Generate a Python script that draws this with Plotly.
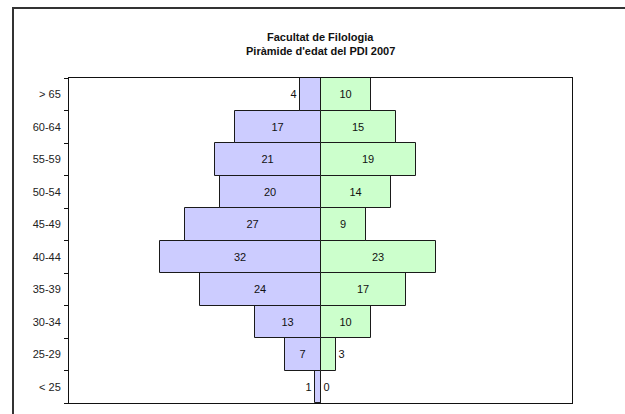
import plotly.graph_objects as go

# age bands, bottom to top
age_groups = ['< 25', '25-29', '30-34', '35-39', '40-44', '45-49', '50-54', '55-59', '60-64', '> 65']
left_counts = [1, 7, 13, 24, 32, 27, 20, 21, 17, 4]
right_counts = [0, 3, 10, 17, 23, 9, 14, 19, 15, 10]

title_lines = ['Facultat de Filologia', "Piràmide d'edat del PDI 2007"]

left_color = '#CCCCFF'
right_color = '#CCFFCC'
edge_color = '#1a1a1a'


def label_positions(values):
    # small bars get their label outside, like the original
    return ['outside' if v < 5 else 'inside' for v in values]


fig = go.Figure()
fig.add_trace(go.Bar(
    y=age_groups, x=[-v for v in left_counts], orientation='h',
    text=[str(v) for v in left_counts], textposition=label_positions(left_counts),
    insidetextanchor='middle', constraintext='none',
    marker=dict(color=left_color, line=dict(color=edge_color, width=1)),
    showlegend=False, hoverinfo='skip', cliponaxis=False,
))
fig.add_trace(go.Bar(
    y=age_groups, x=right_counts, orientation='h',
    text=[str(v) for v in right_counts], textposition=label_positions(right_counts),
    insidetextanchor='middle', constraintext='none',
    marker=dict(color=right_color, line=dict(color=edge_color, width=1)),
    showlegend=False, hoverinfo='skip', cliponaxis=False,
))

fig.update_traces(textfont=dict(family='Liberation Sans, Arial', size=11, color='#111111'))

# title line centres, in pixels from the top of the figure
title_px = [37, 51]

fig.update_layout(
    width=625, height=414,
    margin=dict(l=69, r=53, t=78, b=11),
    paper_bgcolor='white', plot_bgcolor='white',
    barmode='relative', bargap=0,
    font=dict(family='Liberation Sans, Arial', size=11, color='#222222'),
    annotations=[
        dict(text='<b>' + t + '</b>', x=0.5, y=1 + (78 - py) / 325, xref='paper', yref='paper',
             yanchor='middle', showarrow=False, font=dict(size=11, color='#111111'))
        for t, py in zip(title_lines, title_px)
    ],
    shapes=[dict(type='rect', xref='paper', yref='paper',
                 x0=(13 - 69) / 503, x1=2, y0=-1, y1=1 + (78 - 8) / 325,
                 line=dict(color='#333333', width=2))],
)

fig.update_xaxes(range=[-50, 50], showticklabels=False, ticks='', showgrid=False,
                 zeroline=False, showline=True, linecolor='#111111', linewidth=1, mirror=True)
fig.update_yaxes(type='category', categoryorder='array', categoryarray=age_groups,
                 tickson='boundaries', ticks='outside', ticklen=4, tickcolor='#111111',
                 ticklabelstandoff=5,
                 showgrid=False, zeroline=False, showline=True, linecolor='#111111',
                 linewidth=1, mirror=True)

fig.write_html('out.html', config={'displayModeBar': False},
               post_script="document.body.style.margin='0';")
